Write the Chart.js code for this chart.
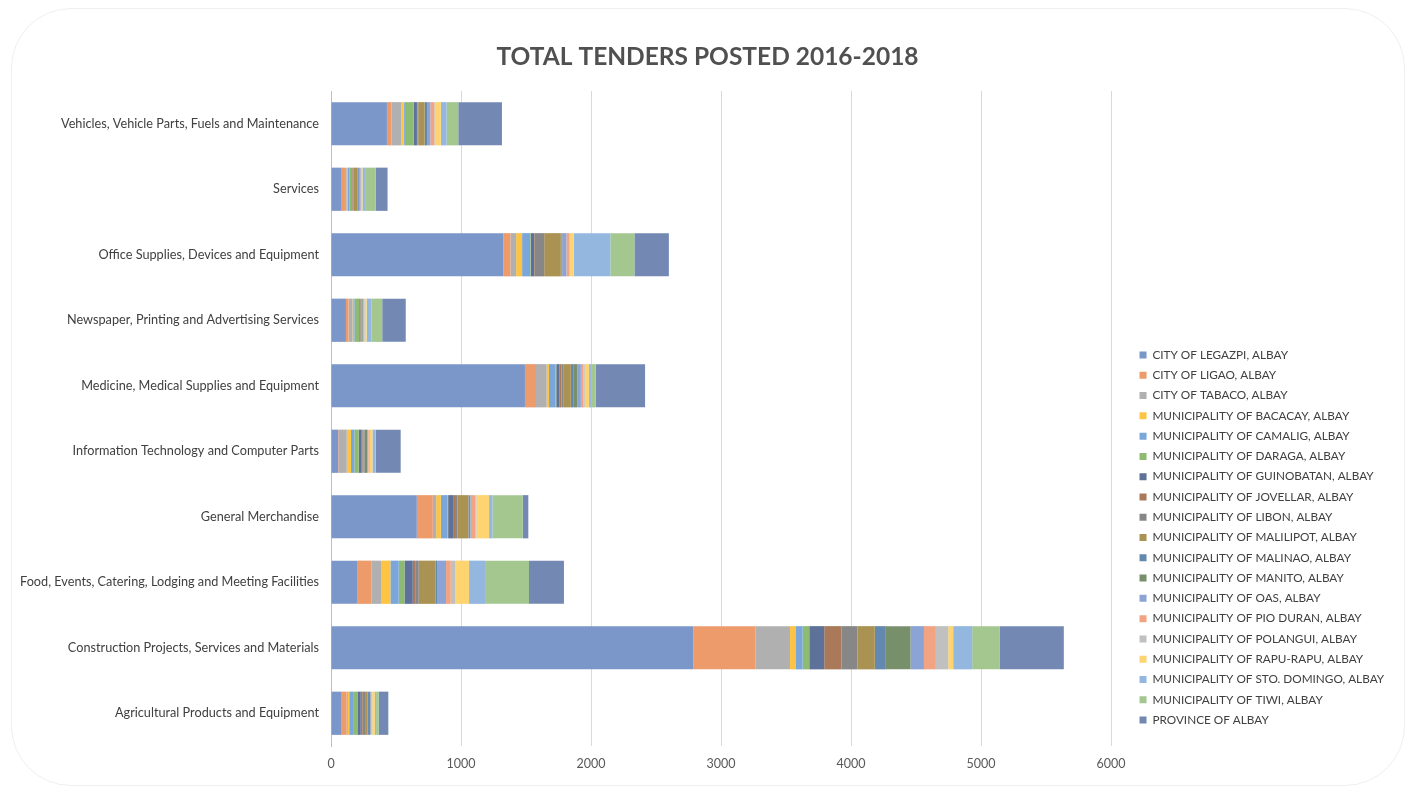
<!DOCTYPE html>
<html>
<head>
<meta charset="utf-8">
<title>Total Tenders Posted 2016-2018</title>
<script src="https://cdn.jsdelivr.net/npm/chart.js@4.4.0/dist/chart.umd.min.js"></script>
<style>
    html, body { margin: 0; padding: 0; background: #ffffff; }
    #card {
        position: absolute; left: 11px; top: 8px; width: 1392px; height: 776px;
        border: 1px solid #efefef; border-radius: 60px; background: #ffffff;
    }
    #wrap { position: absolute; left: 0; top: 0; width: 1415px; height: 793px; }
</style>
</head>
<body>
<div id="card"></div>
<div id="wrap"><canvas id="tendersChart" width="1415" height="793"></canvas></div>
<script>
// categories, bottom to top as in the source sheet
const categories = [
    'Agricultural Products and Equipment',
    'Construction Projects, Services and Materials',
    'Food, Events, Catering, Lodging and Meeting Facilities',
    'General Merchandise',
    'Information Technology and Computer Parts',
    'Medicine, Medical Supplies and Equipment',
    'Newspaper, Printing and Advertising Services',
    'Office Supplies, Devices and Equipment',
    'Services',
    'Vehicles, Vehicle Parts, Fuels and Maintenance'
];

const xTicks = [0, 1000, 2000, 3000, 4000, 5000, 6000];

const legazpi    = [82, 2787, 205, 660, 56, 1492, 115, 1326, 82, 430];
const ligao      = [38, 480, 108, 123, 5, 85, 20, 54, 26, 36];
const tabaco     = [10, 264, 72, 26, 60, 82, 31, 44, 13, 74];
const bacacay    = [10, 46, 72, 36, 33, 18, 5, 46, 5, 18];
const camalig    = [30, 51, 64, 51, 26, 51, 10, 62, 15, 10];
const daraga     = [33, 51, 44, 5, 33, 5, 35, 5, 15, 67];
const guinobatan = [26, 115, 64, 38, 23, 25, 5, 26, 5, 26];
const jovellar   = [15, 133, 23, 15, 5, 15, 5, 5, 5, 5];
const libon      = [18, 123, 23, 18, 10, 13, 5, 72, 5, 5];
const malilipot  = [20, 133, 128, 85, 5, 59, 5, 128, 35, 50];
const malinao    = [10, 85, 13, 5, 5, 18, 3, 5, 8, 18];
const manito     = [10, 190, 5, 8, 18, 33, 5, 5, 5, 5];
const oas        = [5, 103, 64, 5, 5, 26, 5, 33, 8, 20];
const pioDuran   = [5, 92, 36, 36, 5, 20, 5, 23, 5, 30];
const polangui   = [5, 95, 33, 8, 10, 10, 5, 5, 5, 5];
const rapuRapu   = [20, 38, 108, 97, 20, 33, 15, 28, 5, 46];
const stoDomingo = [10, 146, 123, 26, 20, 20, 38, 282, 26, 44];
const tiwi       = [20, 213, 338, 232, 5, 31, 82, 185, 77, 90];
const province   = [74, 492, 269, 44, 192, 380, 181, 265, 90, 336];

const series = [
    ['CITY OF LEGAZPI, ALBAY', legazpi, '#7b96c8'],
    ['CITY OF LIGAO, ALBAY', ligao, '#ee9b6c'],
    ['CITY OF TABACO, ALBAY', tabaco, '#b0b0b0'],
    ['MUNICIPALITY OF BACACAY, ALBAY', bacacay, '#fdc444'],
    ['MUNICIPALITY OF CAMALIG, ALBAY', camalig, '#7aa6da'],
    ['MUNICIPALITY OF DARAGA, ALBAY', daraga, '#8dbb72'],
    ['MUNICIPALITY OF GUINOBATAN, ALBAY', guinobatan, '#5e7199'],
    ['MUNICIPALITY OF JOVELLAR, ALBAY', jovellar, '#a9795a'],
    ['MUNICIPALITY OF LIBON, ALBAY', libon, '#878787'],
    ['MUNICIPALITY OF MALILIPOT, ALBAY', malilipot, '#aa9253'],
    ['MUNICIPALITY OF MALINAO, ALBAY', malinao, '#6489b0'],
    ['MUNICIPALITY OF MANITO, ALBAY', manito, '#788f6b'],
    ['MUNICIPALITY OF OAS, ALBAY', oas, '#8ca3d6'],
    ['MUNICIPALITY OF PIO DURAN, ALBAY', pioDuran, '#f2a482'],
    ['MUNICIPALITY OF POLANGUI, ALBAY', polangui, '#c0c0c0'],
    ['MUNICIPALITY OF RAPU-RAPU, ALBAY', rapuRapu, '#fdd46f'],
    ['MUNICIPALITY OF STO. DOMINGO, ALBAY', stoDomingo, '#93b7df'],
    ['MUNICIPALITY OF TIWI, ALBAY', tiwi, '#a3c78f'],
    ['PROVINCE OF ALBAY', province, '#7389b3']
];

// pin the legend where the spreadsheet put it
const legendSpot = {
    id: 'legendSpot',
    beforeInit(chart) {
        const fit = chart.legend.fit;
        chart.legend.fit = function () {
            fit.call(this);
            this.width = 304;
        };
    },
    afterLayout(chart) {
        const lg = chart.legend;
        const h = lg.bottom - lg.top;
        lg.left = 1131;
        lg.right = 1131 + 280;
        lg.top = 340.6;
        lg.bottom = 340.6 + h;
    }
};

Chart.defaults.font.family = 'Lato, "Open Sans", sans-serif';
Chart.defaults.color = '#595959';

new Chart(document.getElementById('tendersChart').getContext('2d'), {
    type: 'bar',
    data: {
        labels: categories,
        datasets: series.map(([label, data, color]) => ({
            label: label,
            data: data,
            backgroundColor: color,
            borderWidth: 0,
            categoryPercentage: 1,
            barPercentage: 0.66
        }))
    },
    options: {
        indexAxis: 'y',
        responsive: false,
        animation: false,
        layout: { padding: { top: 30, left: 0, right: 0, bottom: 12 } },
        plugins: {
            title: {
                display: true,
                text: 'TOTAL TENDERS POSTED 2016-2018',
                color: '#505050',
                font: { size: 24.5, weight: 'bold' },
                padding: { top: 12, bottom: 19.6 }
            },
            legend: {
                position: 'right',
                align: 'start',
                labels: {
                    boxWidth: 7,
                    boxHeight: 7,
                    padding: 8.53,
                    color: '#404040',
                    font: { size: 11.75 }
                }
            },
            tooltip: { enabled: false }
        },
        scales: {
            x: {
                stacked: true,
                min: 0,
                max: 6000,
                afterBuildTicks: axis => { axis.ticks = xTicks.map(v => ({ value: v })); },
                grid: { color: '#d9d9d9', drawTicks: false },
                border: { display: false },
                ticks: { padding: 10, font: { size: 12.5 }, color: '#595959', callback: v => String(v) }
            },
            y: {
                stacked: true,
                reverse: true,
                grid: { display: false, drawTicks: false },
                border: { display: true, color: '#bfbfbf' },
                ticks: { padding: 12, font: { size: 12.7 }, color: '#404040' },
                afterFit: scale => { scale.width = 331; }
            }
        }
    },
    plugins: [legendSpot]
});
</script>
</body>
</html>
